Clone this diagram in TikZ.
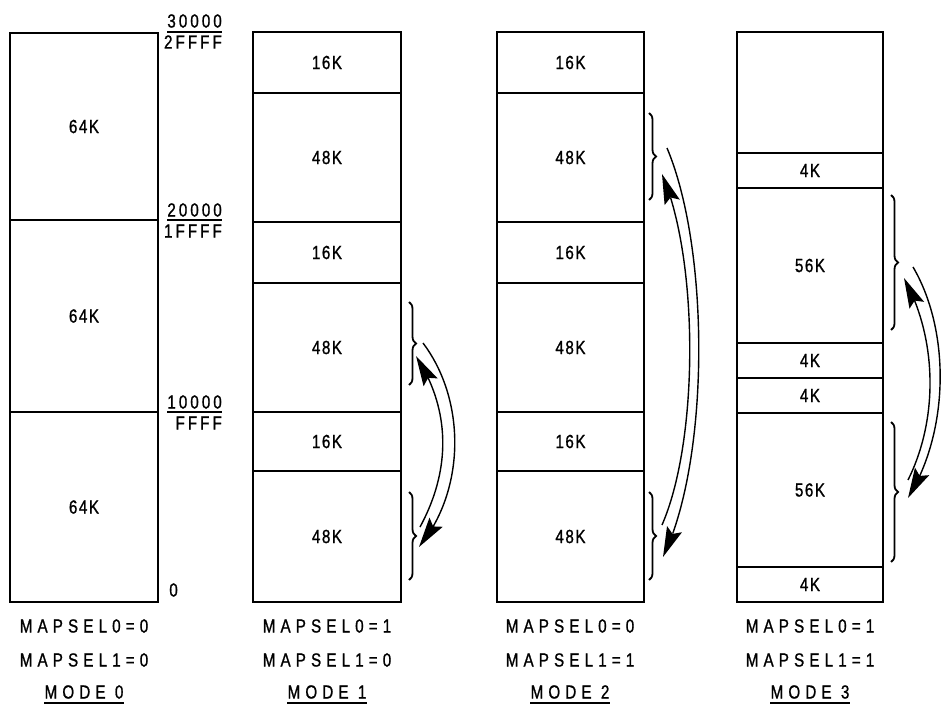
\documentclass[tikz,border=0pt]{standalone}
\usepackage{fontspec}
\setmainfont{Liberation Sans}[FakeStretch=0.8]
\newfontfamily\boxfont{Liberation Sans}[FakeStretch=0.8,LetterSpace=8,FakeBold=1]
\newfontfamily\addrfont{Liberation Sans}[FakeStretch=0.8,LetterSpace=16,FakeBold=1]
\newfontfamily\capfont{Liberation Sans}[FakeStretch=0.8,LetterSpace=27,FakeBold=1]
\usetikzlibrary{decorations.pathreplacing,arrows.meta,bending}
\tikzset{
  seg/.style={draw, line width=1.6pt, rectangle, inner sep=0pt,
    font=\boxfont\fontsize{19}{21}\selectfont},
  addr/.style={inner sep=0pt, anchor=east, font=\addrfont\fontsize{19}{21}\selectfont},
  captxt/.style={inner sep=0pt, font=\capfont\fontsize{19}{21}\selectfont},
  brc/.style={decorate, decoration={brace, amplitude=7pt}, line width=1.8pt},
  swaparrow/.style={line width=1.4pt, arrows={-Stealth[length=30pt,width=16pt,inset=5pt]}}
}
\begin{document}
\begin{tikzpicture}[x=1pt,y=-1pt]
\useasboundingbox (0,0) rectangle (944,711);
% Mode 0
\node[seg, minimum width=148, minimum height=187] (a1) at (84,126.5) {64K};
\node[seg, minimum width=148, minimum height=192] (a2) at (84,316) {64K};
\node[seg, minimum width=148, minimum height=190] (a3) at (84,507) {64K};
% addresses
\node[addr] (t1) at (222,21) {30000};
\node[addr] (u1) at (222,42) {2FFFF};
\node[addr] (t2) at (222,210) {20000};
\node[addr] (u2) at (222,231) {1FFFF};
\node[addr] (t3) at (222,402) {10000};
\node[addr] (u3) at (222,423) {FFFF};
\node[addr] (z0) at (178,590) {0};
\draw[line width=1.2pt] (t1.west |- 0,32) -- (222,32);
\draw[line width=1.2pt] (t2.west |- 0,220) -- (222,220);
\draw[line width=1.2pt] (t3.west |- 0,412) -- (222,412);
% Mode 1
\node[seg, minimum width=148, minimum height=61] (b1) at (327,62.5) {16K};
\node[seg, minimum width=148, minimum height=129] (b2) at (327,157.5) {48K};
\node[seg, minimum width=148, minimum height=61] (b3) at (327,252.5) {16K};
\node[seg, minimum width=148, minimum height=129] (b4) at (327,347.5) {48K};
\node[seg, minimum width=148, minimum height=59] (b5) at (327,441.5) {16K};
\node[seg, minimum width=148, minimum height=131] (b6) at (327,536.5) {48K};
% Mode 2
\node[seg, minimum width=147, minimum height=61] (c1) at (570.5,62.5) {16K};
\node[seg, minimum width=147, minimum height=129] (c2) at (570.5,157.5) {48K};
\node[seg, minimum width=147, minimum height=61] (c3) at (570.5,252.5) {16K};
\node[seg, minimum width=147, minimum height=129] (c4) at (570.5,347.5) {48K};
\node[seg, minimum width=147, minimum height=59] (c5) at (570.5,441.5) {16K};
\node[seg, minimum width=147, minimum height=131] (c6) at (570.5,536.5) {48K};
% Mode 3
\node[seg, minimum width=146, minimum height=121] (d1) at (810,92.5) {};
\node[seg, minimum width=146, minimum height=35] (d2) at (810,170.5) {4K};
\node[seg, minimum width=146, minimum height=155] (d3) at (810,265.5) {56K};
\node[seg, minimum width=146, minimum height=35] (d4) at (810,360.5) {4K};
\node[seg, minimum width=146, minimum height=35] (d5) at (810,395.5) {4K};
\node[seg, minimum width=146, minimum height=154] (d6) at (810,490) {56K};
\node[seg, minimum width=146, minimum height=35] (d7) at (810,584.5) {4K};
% braces and swap arrows, mode 1
\coordinate (b4t) at (409,302); \coordinate (b4b) at (409,385);
\coordinate (b6t) at (409,492); \coordinate (b6b) at (409,580);
\draw[brc] (b4t) -- (b4b);
\draw[brc] (b6t) -- (b6b);
\coordinate (p1) at (420,527); \coordinate (q1) at (416,356);
\coordinate (p2) at (423,343); \coordinate (q2) at (419,547);
\draw[swaparrow] (p1) .. controls (451,470) and (451,410) .. (q1);
\draw[swaparrow] (p2) .. controls (466,400) and (466,490) .. (q2);
% mode 2
\coordinate (c2t) at (649,113); \coordinate (c2b) at (649,200);
\coordinate (c6t) at (649,492); \coordinate (c6b) at (649,580);
\draw[brc] (c2t) -- (c2b);
\draw[brc] (c6t) -- (c6b);
\coordinate (p3) at (662,525); \coordinate (q3) at (662,174);
\coordinate (p4) at (667,148); \coordinate (q4) at (663,557);
\draw[swaparrow] (p3) .. controls (699,440) and (699,260) .. (q3);
\draw[swaparrow] (p4) .. controls (710,250) and (710,460) .. (q4);
% mode 3
\coordinate (d3t) at (891,195); \coordinate (d3b) at (891,330);
\coordinate (d6t) at (891,422); \coordinate (d6b) at (891,562);
\draw[brc] (d3t) -- (d3b);
\draw[brc] (d6t) -- (d6b);
\coordinate (p5) at (908,480); \coordinate (q5) at (904,278);
\coordinate (p6) at (913,267); \coordinate (q6) at (908,498);
\draw[swaparrow] (p5) .. controls (938,420) and (938,340) .. (q5);
\draw[swaparrow] (p6) .. controls (950,330) and (950,430) .. (q6);
% captions
\node[captxt] (m0a) at (84,626) {MAPSEL0=0};
\node[captxt] (m0b) at (84,660) {MAPSEL1=0};
\node[captxt] (m0c) at (84,692) {MODE 0};
\node[captxt] (m1a) at (327,626) {MAPSEL0=1};
\node[captxt] (m1b) at (327,660) {MAPSEL1=0};
\node[captxt] (m1c) at (327,692) {MODE 1};
\node[captxt] (m2a) at (570,626) {MAPSEL0=0};
\node[captxt] (m2b) at (570,660) {MAPSEL1=1};
\node[captxt] (m2c) at (570,692) {MODE 2};
\node[captxt] (m3a) at (810,626) {MAPSEL0=1};
\node[captxt] (m3b) at (810,660) {MAPSEL1=1};
\node[captxt] (m3c) at (810,692) {MODE 3};
\foreach \m in {m0c,m1c,m2c,m3c}
  \draw[line width=1.2pt] ([yshift=-4pt]\m.south west) -- ([yshift=-4pt]\m.south east);
\end{tikzpicture}
\end{document}
